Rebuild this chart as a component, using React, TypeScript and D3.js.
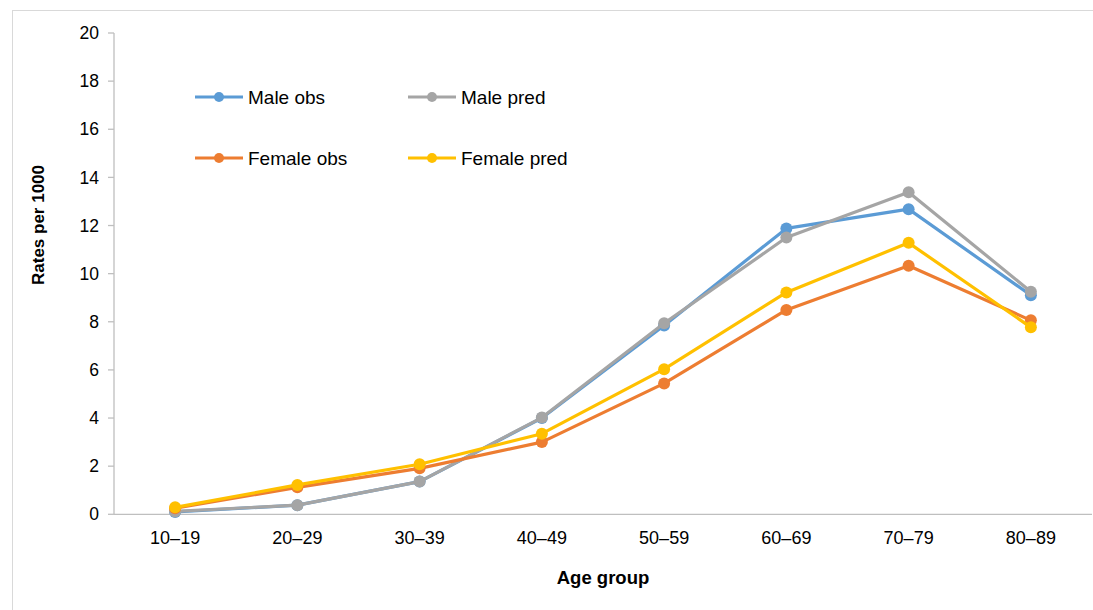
import React from "react";
import * as d3 from "d3";

const categories = ["10–19", "20–29", "30–39", "40–49", "50–59", "60–69", "70–79", "80–89"];
const maleObs = [0.1, 0.38, 1.36, 4.0, 7.85, 11.88, 12.68, 9.1];
const malePred = [0.12, 0.38, 1.36, 4.02, 7.94, 11.5, 13.38, 9.25];
const femaleObs = [0.25, 1.12, 1.91, 3.0, 5.44, 8.49, 10.33, 8.06];
const femalePred = [0.29, 1.22, 2.08, 3.35, 6.03, 9.22, 11.28, 7.77];
const yTicks = [0, 2, 4, 6, 8, 10, 12, 14, 16, 18, 20];

const series = [
  { name: "Male obs", values: maleObs, color: "#5B9BD5" },
  { name: "Male pred", values: malePred, color: "#A5A5A5" },
  { name: "Female obs", values: femaleObs, color: "#ED7D31" },
  { name: "Female pred", values: femalePred, color: "#FFC000" },
];

const font = "'Liberation Sans', Arial, sans-serif";

export default function App() {
  const left = 114;
  const right = 1092;
  const top = 33;
  const bottom = 514.3;
  const x = d3.scaleBand<string>().domain(categories).range([left, right]);
  const cx = (c: string) => (x(c) as number) + x.bandwidth() / 2;
  const y = d3.scaleLinear().domain([0, 20]).range([bottom, top]);
  const line = d3
    .line<number>()
    .x((_, i) => cx(categories[i]))
    .y((d) => y(d));

  const legendPos = [
    { lx: 195, ly: 97 },
    { lx: 408, ly: 97 },
    { lx: 195, ly: 158 },
    { lx: 408, ly: 158 },
  ];

  return (
    <svg
      width={1093}
      height={610}
      style={{ position: "absolute", left: 0, top: 0, background: "#fff" }}
      fontFamily={font}
    >
      <rect x={12.5} y={10.5} width={1100} height={620} fill="#fff" stroke="#d9d9d9" strokeWidth={1} />
      <line x1={left} x2={left} y1={top} y2={bottom} stroke="#bfbfbf" strokeWidth={1.3} />
      {yTicks.map((t) => (
        <g key={t}>
          <line x1={left - 6} x2={left} y1={y(t)} y2={y(t)} stroke="#bfbfbf" strokeWidth={1.3} />
          <text x={99} y={y(t)} dy="0.35em" textAnchor="end" fontSize={17.5} fill="#000">
            {t}
          </text>
        </g>
      ))}
      <line x1={left} x2={right} y1={bottom} y2={bottom} stroke="#bfbfbf" strokeWidth={1.3} />
      {categories.map((c) => (
        <text key={c} x={cx(c)} y={544} textAnchor="middle" fontSize={18} fill="#000">
          {c}
        </text>
      ))}
      <text x={603} y={584} textAnchor="middle" fontSize={18.5} fontWeight="bold" fill="#000">
        Age group
      </text>
      <text
        transform={`translate(44,225) rotate(-90)`}
        textAnchor="middle"
        fontSize={17}
        fontWeight="bold"
        fill="#000"
      >
        Rates per 1000
      </text>
      {series.map((s) => (
        <g key={s.name}>
          <path d={line(s.values) as string} fill="none" stroke={s.color} strokeWidth={3.2} strokeLinejoin="round" />
          {s.values.map((v, i) => (
            <circle key={i} cx={cx(categories[i])} cy={y(v)} r={6} fill={s.color} />
          ))}
        </g>
      ))}
      {series.map((s, i) => {
        const p = legendPos[i];
        return (
          <g key={s.name}>
            <line x1={p.lx} x2={p.lx + 48} y1={p.ly} y2={p.ly} stroke={s.color} strokeWidth={3} />
            <circle cx={p.lx + 24} cy={p.ly} r={5} fill={s.color} />
            <text x={p.lx + 53} y={p.ly} dy="0.35em" fontSize={19} fill="#000">
              {s.name}
            </text>
          </g>
        );
      })}
    </svg>
  );
}
